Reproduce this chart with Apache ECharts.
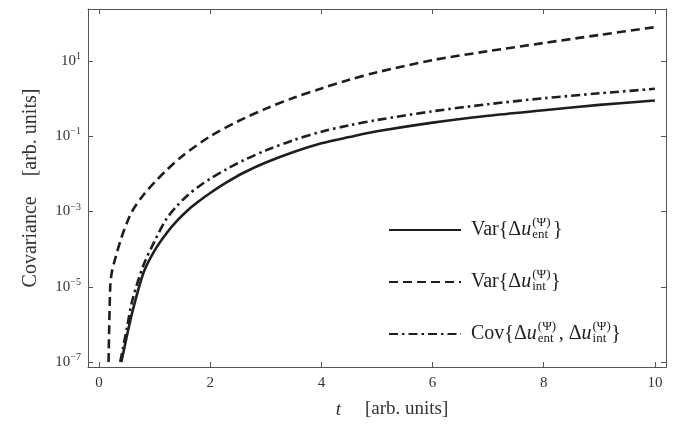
<!DOCTYPE html>
<html>
<head>
<meta charset="utf-8">
<script src="https://cdn.jsdelivr.net/npm/echarts@6/dist/echarts.min.js"></script>
<style>
html, body { margin: 0; padding: 0; background: #fff; }
#cov-chart { width: 693px; height: 431px; }
</style>
</head>
<body>
<div id="cov-chart"></div>
<script>
// values (t in arb. units, covariance in arb. units)
const tEnt = [0.4, 0.5, 0.6, 0.8, 1.0, 1.2, 1.4, 1.6, 1.8, 2.0, 2.3, 2.6, 3.0, 3.5, 4.0, 4.5, 5.0, 6.0, 7.0, 8.0, 9.0, 10.0]
const varEnt = [1.0e-7, 5.0e-7, 2.2e-6, 2.4e-5, 9.3e-5, 2.5e-4, 5.6e-4, 1.1e-3, 1.9e-3, 3.1e-3, 6.0e-3, 1.07e-2, 2.0e-2, 3.8e-2, 6.5e-2, 9.5e-2, 0.135, 0.23, 0.35, 0.49, 0.68, 0.89]

const tInt = [0.17, 0.2, 0.23, 0.3, 0.4, 0.5, 0.6, 0.8, 1.0, 1.2, 1.5, 2.0, 2.5, 3.0, 3.5, 4.0, 4.5, 5.0, 6.0, 7.0, 8.0, 9.0, 10.0]
const varInt = [1.0e-7, 1.0e-5, 2.5e-5, 6.3e-5, 2.0e-4, 5.0e-4, 1.05e-3, 2.8e-3, 6.0e-3, 1.2e-2, 3.0e-2, 0.1, 0.25, 0.54, 1.05, 1.86, 3.16, 5.0, 10.5, 18.2, 30, 49, 79]

const tCov = [0.38, 0.5, 0.6, 0.8, 1.0, 1.2, 1.4, 1.6, 1.8, 2.0, 2.3, 2.6, 3.0, 3.5, 4.0, 4.5, 5.0, 6.0, 7.0, 8.0, 9.0, 10.0]
const covEntInt = [1.0e-7, 8.0e-7, 4.5e-6, 3.8e-5, 1.65e-4, 6.0e-4, 1.4e-3, 2.75e-3, 4.7e-3, 7.4e-3, 1.35e-2, 2.3e-2, 4.2e-2, 7.9e-2, 0.132, 0.195, 0.27, 0.46, 0.71, 1.02, 1.38, 1.82]

const xTicks = [0, 2, 4, 6, 8, 10]
const yTicks = [1e-7, 1e-5, 1e-3, 1e-1, 1e1]

const serif = 'Liberation Serif'
const ink = '#1e1e1e'
const frame = '#555'
const textInk = '#333'

const pairs = (xs, ys) => xs.map((x, i) => [x, ys[i]])

const legendText = {
  varEnt: '{n|Var{Δ}{i|u}{sup|(Ψ)}{sub|ent}}',
  varInt: '{n|Var{Δ}{i|u}{sup|(Ψ)}{sub|int}}',
  cov: '{n|Cov{Δ}{i|u}{sup|(Ψ)}{sub|ent}{n|, Δ}{i|u}{sup|(Ψ)}{sub|int}}'
}

const yLabel = v => {
  const e = Math.round(Math.log10(v))
  return '{b|10}{e|' + (e < 0 ? '\u2212' + (-e) : e) + '}'
}

const xAxisBase = {
  type: 'value',
  min: -0.2,
  max: 10.2,
  axisLine: { show: true, onZero: false, lineStyle: { color: frame, width: 1 } },
  axisTick: { show: true, inside: true, length: 5, customValues: xTicks, lineStyle: { color: frame } },
  splitLine: { show: false }
}
const yAxisBase = {
  type: 'log',
  logBase: 10,
  min: 7.4e-8,
  max: 240,
  axisLine: { show: true, onZero: false, lineStyle: { color: frame, width: 1 } },
  axisTick: { show: true, inside: true, length: 5, customValues: yTicks, lineStyle: { color: frame } },
  minorTick: { show: false },
  splitLine: { show: false }
}

const lineSeries = (name, data, type) => ({
  name: name,
  type: 'line',
  data: data,
  symbol: 'none',
  smooth: 0.3,
  lineStyle: { color: ink, width: 2.6, type: type },
  itemStyle: { color: ink }
})

const chart = echarts.init(document.getElementById('cov-chart'))

const option = {
  animation: false,
  backgroundColor: '#fff',
  grid: { left: 88, right: 27, top: 9, bottom: 64 },
  xAxis: [
    Object.assign({}, xAxisBase, {
      position: 'bottom',
      axisLabel: {
        customValues: xTicks,
        margin: 9,
        fontFamily: serif,
        fontSize: 15,
        color: textInk
      },
      name: '{it|t}{g|}{n|[arb. units]}',
      nameLocation: 'middle',
      nameGap: 33,
      nameTextStyle: {
        padding: [0, 0, 0, 30],
        rich: {
          it: { fontFamily: serif, fontStyle: 'italic', fontSize: 19, color: textInk },
          g: { width: 24 },
          n: { fontFamily: serif, fontSize: 19, color: textInk }
        }
      }
    }),
    Object.assign({}, xAxisBase, { position: 'top', axisLabel: { show: false } })
  ],
  yAxis: [
    Object.assign({}, yAxisBase, {
      position: 'left',
      axisLabel: {
        customValues: yTicks,
        margin: 7,
        formatter: yLabel,
        rich: {
          b: { fontFamily: serif, fontSize: 15, color: textInk },
          e: { fontFamily: serif, fontSize: 10, color: textInk, padding: [0, 0, 9, 0] }
        }
      },
      name: 'Covariance    [arb. units]',
      nameLocation: 'middle',
      nameGap: 47,
      nameTextStyle: { fontFamily: serif, fontSize: 20, color: textInk }
    }),
    Object.assign({}, yAxisBase, { position: 'right', axisLabel: { show: false } })
  ],
  legend: {
    orient: 'vertical',
    left: 383,
    top: 210,
    itemWidth: 72,
    itemHeight: 14,
    itemGap: 22,
    data: ['varEnt', 'varInt', 'cov'],
    itemStyle: { opacity: 0 },
    formatter: name => legendText[name],
    textStyle: {
      fontFamily: serif,
      fontSize: 20,
      color: '#222',
      lineHeight: 30,
      padding: [0, 0, 0, 5],
      rich: {
        n: { fontFamily: serif, fontSize: 20, color: '#222' },
        i: { fontFamily: serif, fontStyle: 'italic', fontSize: 20, color: '#222', padding: [0, 1, 0, 0] },
        sup: { fontFamily: serif, fontSize: 13, color: '#222', width: 0, padding: [0, 0, 15, 0] },
        sub: { fontFamily: serif, fontSize: 13, color: '#222', padding: [9, 5, 0, 0] }
      }
    }
  },
  series: [
    lineSeries('varEnt', pairs(tEnt, varEnt), 'solid'),
    lineSeries('varInt', pairs(tInt, varInt), [9, 5]),
    lineSeries('cov', pairs(tCov, covEntInt), [9, 4, 2.5, 4])
  ]
}

chart.setOption(option)
</script>
</body>
</html>
